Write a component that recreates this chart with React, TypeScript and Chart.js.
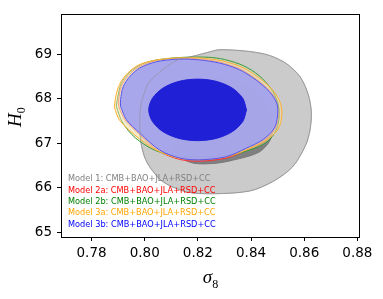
import React, { useEffect, useRef } from "react";
import { Chart, registerables } from "chart.js";

Chart.register(...registerables);

// Axis ranges and ticks
const X_MIN = 0.7685;
const X_MAX = 0.881;
const Y_MIN = 64.9;
const Y_MAX = 69.9;
const X_TICKS = [0.78, 0.8, 0.82, 0.84, 0.86, 0.88];
const Y_TICKS = [65, 66, 67, 68, 69];

// Legend labels
const LEGEND_LABELS = [
  "Model 1: CMB+BAO+JLA+RSD+CC",
  "Model 2a: CMB+BAO+JLA+RSD+CC",
  "Model 2b: CMB+BAO+JLA+RSD+CC",
  "Model 3a: CMB+BAO+JLA+RSD+CC",
  "Model 3b: CMB+BAO+JLA+RSD+CC",
];
const LEGEND_COLORS = ["#808080", "#ff0000", "#008000", "#ffa500", "#0000ff"];

// Contours (sigma8, H0)
const M1_OUTER: number[][] = [
  [0.7981, 67.53], [0.7985, 67.85], [0.8, 68.15], [0.8015, 68.36], [0.8056, 68.6],
  [0.809, 68.75], [0.8124, 68.87], [0.818, 68.95], [0.8244, 69.05], [0.8282, 69.1],
  [0.8394, 69.06], [0.847, 68.97], [0.8535, 68.78], [0.8585, 68.49], [0.8615, 68.1],
  [0.8627, 67.7], [0.8622, 67.3], [0.8605, 66.95], [0.8556, 66.47], [0.8481, 66.14],
  [0.8394, 65.93], [0.8255, 65.87], [0.8158, 65.91], [0.8068, 66.14], [0.8019, 66.47],
  [0.7999, 66.7], [0.7985, 67.05], [0.7981, 67.53],
];
const M1_INNER: number[][] = [
  [0.81, 67.4], [0.812, 67.95], [0.818, 68.3], [0.827, 68.45], [0.836, 68.35],
  [0.843, 68.05], [0.8475, 67.6], [0.8477, 67.14], [0.8432, 66.81], [0.833, 66.62],
  [0.826, 66.55], [0.818, 66.56], [0.812, 66.75], [0.81, 67.05], [0.81, 67.4],
];
const M2A_OUTER: number[][] = [
  [0.7902, 67.83], [0.7902, 67.98], [0.7912, 68.28], [0.7938, 68.52], [0.7976, 68.71],
  [0.804, 68.85], [0.813, 68.91], [0.8207, 68.89], [0.8282, 68.82], [0.8358, 68.67],
  [0.8422, 68.43], [0.8472, 68.17], [0.85, 67.9], [0.8504, 67.64], [0.8492, 67.33],
  [0.8448, 67.06], [0.8385, 66.86], [0.8307, 66.67], [0.8207, 66.6], [0.8131, 66.64],
  [0.8052, 66.83], [0.7976, 67.22], [0.7925, 67.53], [0.7902, 67.83],
];
const M2B_OUTER: number[][] = [
  [0.7893, 67.83], [0.7898, 68.02], [0.7912, 68.35], [0.7945, 68.6], [0.799, 68.78],
  [0.8056, 68.88], [0.815, 68.93], [0.824, 68.93], [0.83, 68.88], [0.8372, 68.74],
  [0.843, 68.52], [0.8476, 68.22], [0.85, 67.92], [0.8506, 67.62], [0.8495, 67.3],
  [0.846, 67.03], [0.84, 66.86], [0.832, 66.74], [0.8207, 66.7], [0.812, 66.72],
  [0.804, 66.84], [0.7965, 67.12], [0.7915, 67.48], [0.7893, 67.83],
];
const M3A_OUTER: number[][] = [
  [0.7886, 67.8], [0.789, 68.02], [0.7905, 68.32], [0.7935, 68.57], [0.7978, 68.76],
  [0.8045, 68.87], [0.8135, 68.92], [0.8215, 68.91], [0.829, 68.85], [0.8365, 68.71],
  [0.843, 68.47], [0.8482, 68.19], [0.851, 67.91], [0.8516, 67.62], [0.8502, 67.32],
  [0.8456, 67.06], [0.839, 66.87], [0.831, 66.7], [0.8207, 66.64], [0.8125, 66.67],
  [0.804, 66.86], [0.796, 67.2], [0.7905, 67.52], [0.7886, 67.8],
];
const M3B_OUTER: number[][] = [
  [0.7909, 67.83], [0.7909, 67.98], [0.7919, 68.27], [0.7944, 68.5], [0.7981, 68.69],
  [0.8044, 68.83], [0.8131, 68.89], [0.8207, 68.87], [0.8282, 68.8], [0.8357, 68.65],
  [0.8419, 68.42], [0.8469, 68.16], [0.8497, 67.9], [0.85, 67.64], [0.8488, 67.34],
  [0.8444, 67.08], [0.8382, 66.89], [0.8307, 66.7], [0.8207, 66.63], [0.8131, 66.67],
  [0.8056, 66.85], [0.7981, 67.23], [0.7931, 67.53], [0.7909, 67.83],
];
const M3B_INNER: number[][] = [
  [0.8383, 67.75], [0.8369, 68.01], [0.8329, 68.24], [0.8269, 68.39], [0.8199, 68.44],
  [0.8129, 68.39], [0.8069, 68.24], [0.8029, 68.01], [0.8015, 67.75], [0.8029, 67.49],
  [0.8069, 67.26], [0.8129, 67.11], [0.8199, 67.06], [0.8269, 67.11], [0.8329, 67.26],
  [0.8369, 67.49], [0.8383, 67.75],
];

const pts = (a: number[][]) => a.map(([x, y]) => ({ x, y }));

function contour(data: number[][], fill: string | false, line: string, width: number, order: number) {
  return {
    data: pts(data),
    showLine: true,
    pointRadius: 0,
    borderColor: line,
    borderWidth: width,
    backgroundColor: fill || "transparent",
    fill: fill ? "shape" : false,
    tension: 0.3,
    order,
  };
}

const decor = {
  id: "decor",
  afterDraw(chart: any) {
    const { ctx, chartArea } = chart;
    const { left, right, top, bottom } = chartArea;
    ctx.save();
    // frame
    ctx.strokeStyle = "#000";
    ctx.lineWidth = 1;
    ctx.strokeRect(Math.round(left) + 0.5, Math.round(top) + 0.5, Math.round(right - left) - 1, Math.round(bottom - top));
    // legend
    ctx.font = "8.2px 'DejaVu Sans'";
    ctx.textBaseline = "middle";
    ctx.textAlign = "left";
    LEGEND_LABELS.forEach((t, i) => {
      ctx.fillStyle = LEGEND_COLORS[i];
      ctx.fillText(t, left + 7, bottom - 58 + i * 11.4);
    });
    // x title sigma_8
    ctx.fillStyle = "#000";
    ctx.textAlign = "left";
    ctx.textBaseline = "alphabetic";
    ctx.font = "italic 19px 'Liberation Serif'";
    const sw = ctx.measureText("σ").width;
    ctx.font = "12px 'Liberation Serif'";
    const ew = ctx.measureText("8").width;
    const cx = (left + right) / 2;
    const sx = cx - (sw + ew) / 2;
    ctx.font = "italic 19px 'Liberation Serif'";
    ctx.fillText("σ", sx, 283);
    ctx.font = "12px 'Liberation Serif'";
    ctx.fillText("8", sx + sw, 288);
    // y title H_0
    ctx.translate(21, 127);
    ctx.rotate(-Math.PI / 2);
    ctx.font = "italic 19px 'Liberation Serif'";
    ctx.fillText("H", 0, 0);
    const hw = ctx.measureText("H").width;
    ctx.font = "12px 'Liberation Serif'";
    ctx.fillText("0", hw, 4);
    ctx.restore();
  },
};

export default function App() {
  const ref = useRef<HTMLCanvasElement>(null);
  useEffect(() => {
    document.body.style.margin = "0";
    const chart = new Chart(ref.current!, {
      type: "scatter",
      data: {
        datasets: [
          contour(M1_OUTER, "#cbcbcb", "#a8a8a8", 1, 10),
          contour(M1_INNER, "#808080", "#777777", 1, 9),
          contour(M2A_OUTER, "rgba(255,190,190,0.35)", "#ff3030", 1, 8),
          contour(M2B_OUTER, "rgba(190,230,190,0.35)", "#3a9a3a", 1, 7),
          contour(M3A_OUTER, "rgba(255,225,170,0.45)", "#ffb030", 1, 6),
          contour(M3B_OUTER, "rgba(162,162,238,0.92)", "#5555ee", 1, 5),
          contour(M3B_INNER, "#2020d6", "#2020d6", 1, 4),
          contour(M1_OUTER, false, "rgba(140,140,140,0.5)", 1, 3),
        ] as any,
      },
      options: {
        animation: false,
        responsive: false,
        events: [],
        layout: { padding: { left: 0, right: 23, top: 14, bottom: 0 } },
        plugins: { legend: { display: false }, tooltip: { enabled: false } },
        scales: {
          x: {
            type: "linear",
            min: X_MIN,
            max: X_MAX,
            afterFit: (s: any) => { s.height = 62; },
            afterBuildTicks: (s: any) => { s.ticks = X_TICKS.map((value) => ({ value })); },
            border: { display: false },
            grid: { drawOnChartArea: false, drawTicks: true, tickLength: 4, color: "#000" },
            ticks: {
              autoSkip: false,
              maxRotation: 0,
              padding: 4,
              color: "#000",
              font: { family: "'DejaVu Sans'", size: 13.5 },
              callback: (v: any) => Number(v).toFixed(2),
            },
          },
          y: {
            type: "linear",
            min: Y_MIN,
            max: Y_MAX,
            afterFit: (s: any) => { s.width = 61; },
            afterBuildTicks: (s: any) => { s.ticks = Y_TICKS.map((value) => ({ value })); },
            border: { display: false },
            grid: { drawOnChartArea: false, drawTicks: true, tickLength: 4, color: "#000" },
            ticks: {
              autoSkip: false,
              padding: 5,
              color: "#000",
              font: { family: "'DejaVu Sans'", size: 13.5 },
              callback: (v: any) => String(Math.round(Number(v))),
            },
          },
        },
      },
      plugins: [decor],
    });
    return () => chart.destroy();
  }, []);
  return (
    <div style={{ width: 383, height: 299, background: "#fff" }}>
      <canvas ref={ref} width={383} height={299} />
    </div>
  );
}
